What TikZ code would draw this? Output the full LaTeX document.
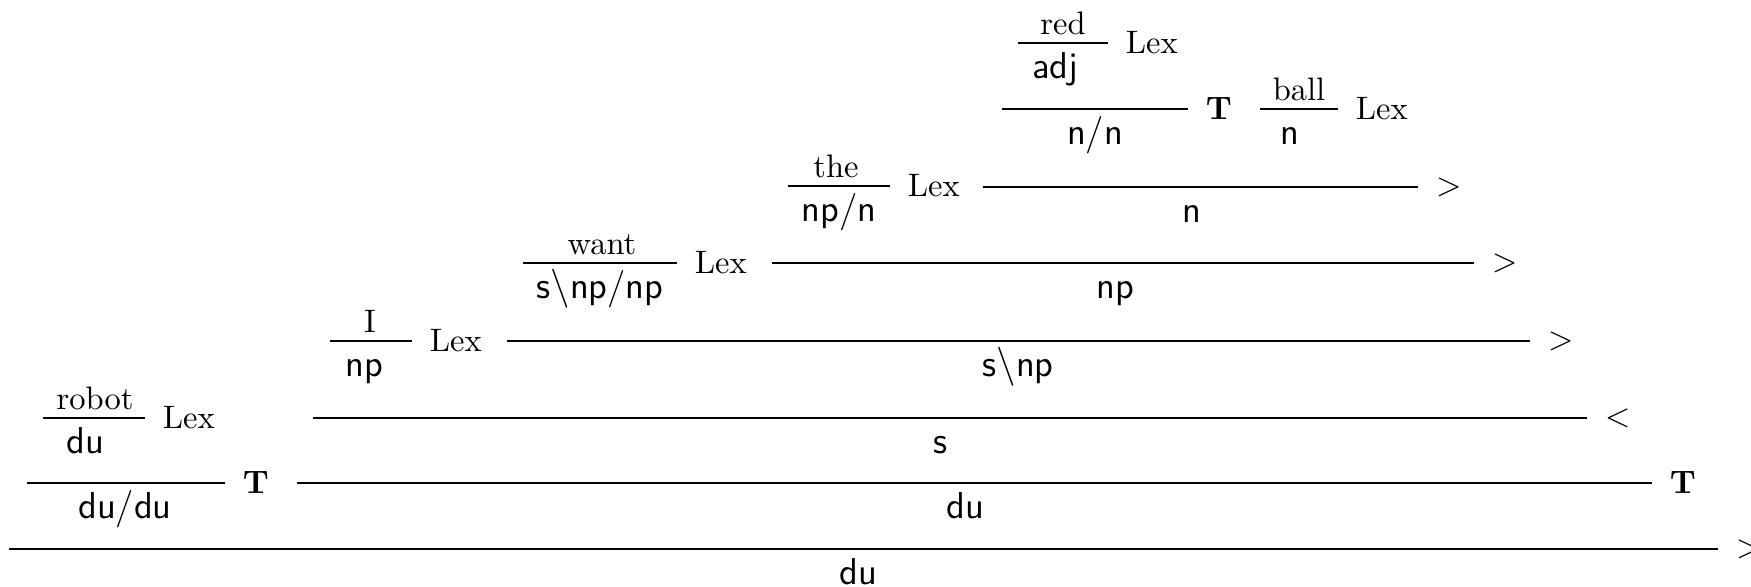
\documentclass[tikz,border=0pt]{standalone}
\usepackage{amsmath}
\usepackage{amssymb}
\usepackage{tikz}
\tikzset{%
    word/.style={anchor=base,inner sep=0pt,yshift=2.5pt},
    cat/.style={anchor=base,inner sep=0pt,yshift=-10.8pt,font=\fontsize{11.5}{14}\sffamily},
    rname/.style={anchor=base west,inner sep=0pt,xshift=5.2pt,yshift=-3.1pt},
    comb/.style={anchor=west,inner sep=0pt,xshift=5.3pt},
    rl/.style={line width=0.6pt}
}

\begin{document}
\begin{tikzpicture}[x=0.3077pt,y=-0.3077pt]
        \useasboundingbox (0,0) rectangle (1751,587);

        \node[word] (w1) at (95,418) {robot};
        \node[cat] (c1) at (85,418) {du};
        \draw[rl] (43,418) -- (145,418) node[rname] (r1) {Lex};

        \node[word] (w2) at (370,341) {I};
        \node[cat] (c2) at (364,341) {np};
        \draw[rl] (330,341) -- (412,341) node[rname] (r2) {Lex};

        \node[word] (w3) at (602,263) {want};
        \node[cat] (c3) at (600,263) {s$\backslash$np/np};
        \draw[rl] (523,263) -- (677,263) node[rname] (r3) {Lex};

        \node[word] (w4) at (836,186) {the};
        \node[cat] (c4) at (839,186) {np/n};
        \draw[rl] (788,186) -- (890,186) node[rname] (r4) {Lex};

        \node[word] (w5) at (1063,43) {red};
        \node[cat] (c5) at (1055,43) {adj};
        \draw[rl] (1018,43) -- (1108,43) node[rname] (r5) {Lex};

        \node[word] (w6) at (1299,109) {ball};
        \node[cat] (c6) at (1290,109) {n};
        \draw[rl] (1260,109) -- (1338,109) node[rname] (r6) {Lex};

        \node[cat] (c7) at (1095,109) {n/n};
        \draw[rl] (1002,109) -- (1188,109) node[rname] (r7) {\textbf{T}};

        \node[cat] (c8) at (1192,187) {n};
        \draw[rl] (983,187) -- (1418,187) node[comb] (r8) {$>$};

        \node[cat] (c9) at (1115,263) {np};
        \draw[rl] (772,263) -- (1474,263) node[comb] (r9) {$>$};

        \node[cat] (c10) at (1018,341) {s$\backslash$np};
        \draw[rl] (507,341) -- (1530,341) node[comb] (r10) {$>$};

        \node[cat] (c11) at (940,418) {s};
        \draw[rl] (313,418) -- (1587,418) node[comb] (r11) {$<$};

        \node[cat] (c12) at (125,483) {du/du};
        \draw[rl] (27,483) -- (225,483) node[rname] (r12) {\textbf{T}};

        \node[cat] (c13) at (965,483) {du};
        \draw[rl] (297,483) -- (1652,483) node[rname] (r13) {\textbf{T}};

        \node[cat] (c14) at (858,549) {du};
        \draw[rl] (9,549) -- (1718,549) node[comb] (r14) {$>$};
    \end{tikzpicture}
\end{document}
